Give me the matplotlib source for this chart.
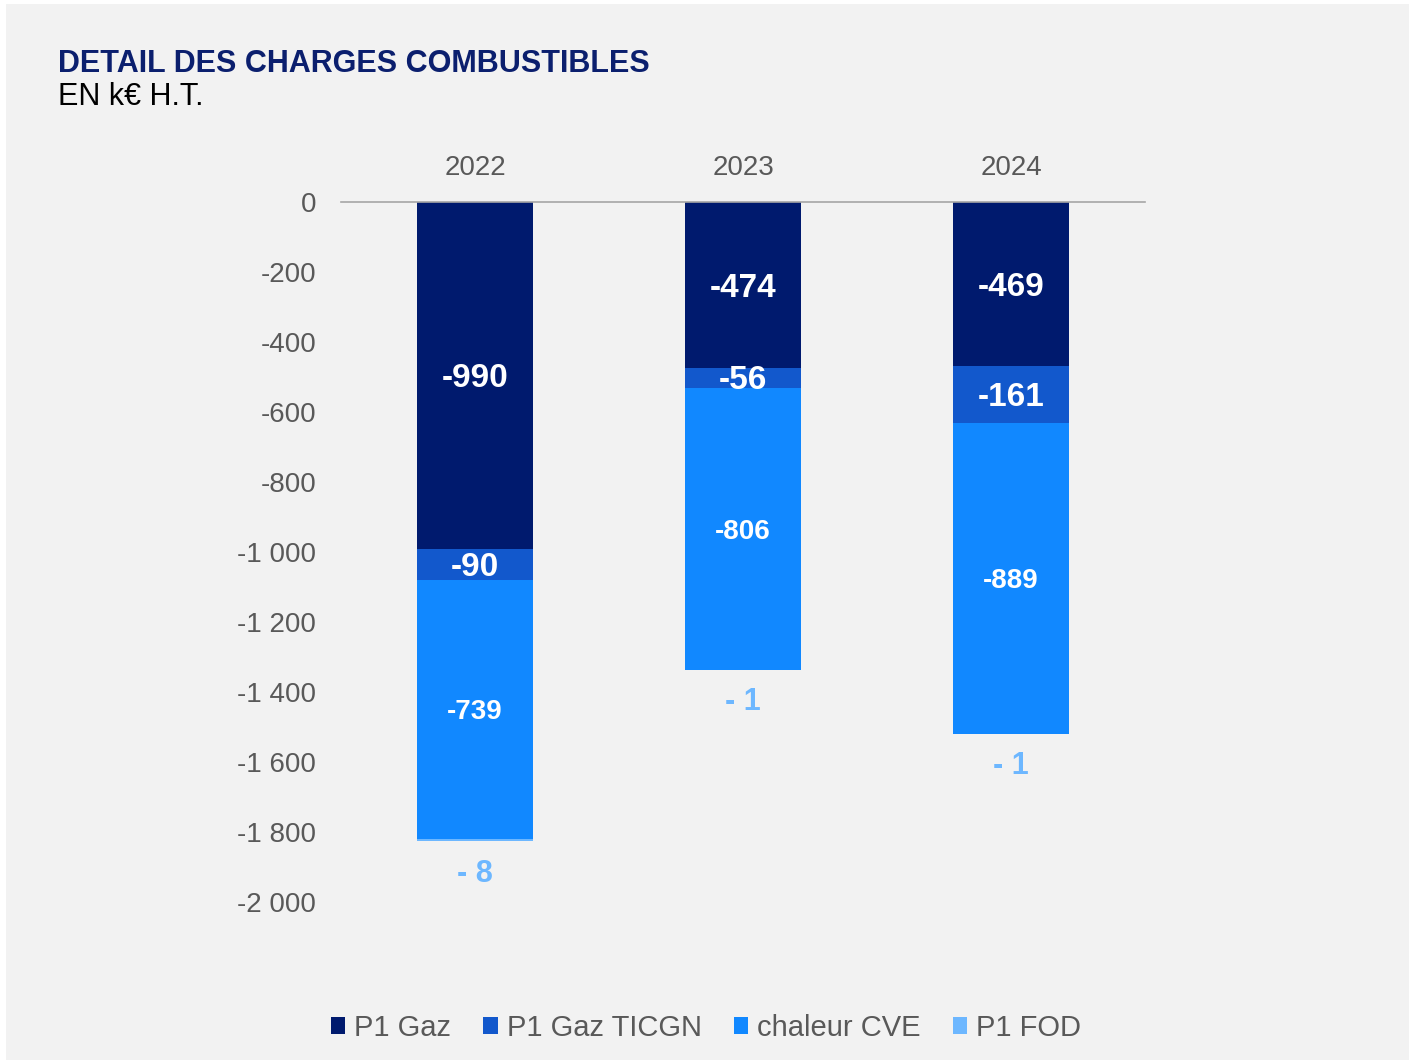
import matplotlib
matplotlib.use("Agg")
import matplotlib.pyplot as plt
from matplotlib.patches import Rectangle
import numpy as np

plt.rcParams["font.family"] = ["Liberation Sans", "DejaVu Sans"]

years = ["2022", "2023", "2024"]
series_names = ["P1 Gaz", "P1 Gaz TICGN", "chaleur CVE", "P1 FOD"]
p1_gaz = [-990, -474, -469]
p1_ticgn = [-90, -56, -161]
chaleur_cve = [-739, -806, -889]
p1_fod = [-8, -1, -1]
yticks = [0, -200, -400, -600, -800, -1000, -1200, -1400, -1600, -1800, -2000]

colors = ["#001a6e", "#1258cc", "#1188ff", "#6db7ff"]

fig = plt.figure(figsize=(14.15, 10.6), dpi=100)
fig.patch.set_facecolor("white")
fig.patches.append(Rectangle((6 / 1415, 0), 1403 / 1415, 1056 / 1060,
                             transform=fig.transFigure, facecolor="#f2f2f2",
                             edgecolor="none", zorder=-10))

ax = fig.add_axes([341 / 1415, 158 / 1060, 804 / 1415, 700 / 1060])
ax.set_facecolor("none")

x = np.arange(len(years))
w = 0.433
bottom = np.zeros(len(years))
all_series = [p1_gaz, p1_ticgn, chaleur_cve, p1_fod]
bars = []
for i, (vals, name) in enumerate(zip(all_series, series_names)):
    v = np.array(vals, dtype=float)
    b = ax.bar(x, v, w, bottom=bottom, color=colors[i], label=name, zorder=2)
    bars.append(b)
    for j in range(len(years)):
        if i < 3:
            sz = 24 if i < 2 else 20
            ax.text(x[j], bottom[j] + v[j] / 2 - 9, f"{vals[j]}", ha="center",
                    va="center", color="white", fontsize=sz, fontweight="bold",
                    zorder=3)
        else:
            ax.text(x[j], bottom[j] + v[j] - 92, f"- {abs(vals[j])}", ha="center",
                    va="center", color=colors[3], fontsize=22, fontweight="bold",
                    zorder=3)
    bottom = bottom + v

ax.set_xlim(-0.5, 2.5)
ax.set_ylim(-2000, 0)
ax.set_yticks(yticks)
ax.set_yticklabels([f"{t:,}".replace(",", " ") for t in yticks])
ax.tick_params(axis="y", length=0, pad=18, labelsize=20, labelcolor="#595959")
ax.xaxis.tick_top()
ax.set_xticks(x)
ax.set_xticklabels(years)
ax.tick_params(axis="x", length=0, pad=15, labelsize=20, labelcolor="#595959")
for s in ["left", "right", "bottom"]:
    ax.spines[s].set_visible(False)
ax.spines["top"].set_color("#a6a6a6")
ax.spines["top"].set_linewidth(1.2)

fig.text(58 / 1415, 1 - 64 / 1060, "DETAIL DES CHARGES COMBUSTIBLES", ha="left",
         va="center", fontsize=22, fontweight="bold", color="#0b1f6e")
fig.text(58 / 1415, 1 - 97 / 1060, "EN k€ H.T.", ha="left", va="center",
         fontsize=22, color="black")

leg = fig.legend(handles=bars, labels=series_names, loc="center",
                 bbox_to_anchor=(706 / 1415, 1 - 1028 / 1060), ncol=4, frameon=False,
                 fontsize=21, handlelength=0.5, handleheight=0.5, handletextpad=0.3,
                 columnspacing=1.1)
for t in leg.get_texts():
    t.set_color("#595959")

fig.savefig("out.png", dpi=100, facecolor=fig.get_facecolor())
